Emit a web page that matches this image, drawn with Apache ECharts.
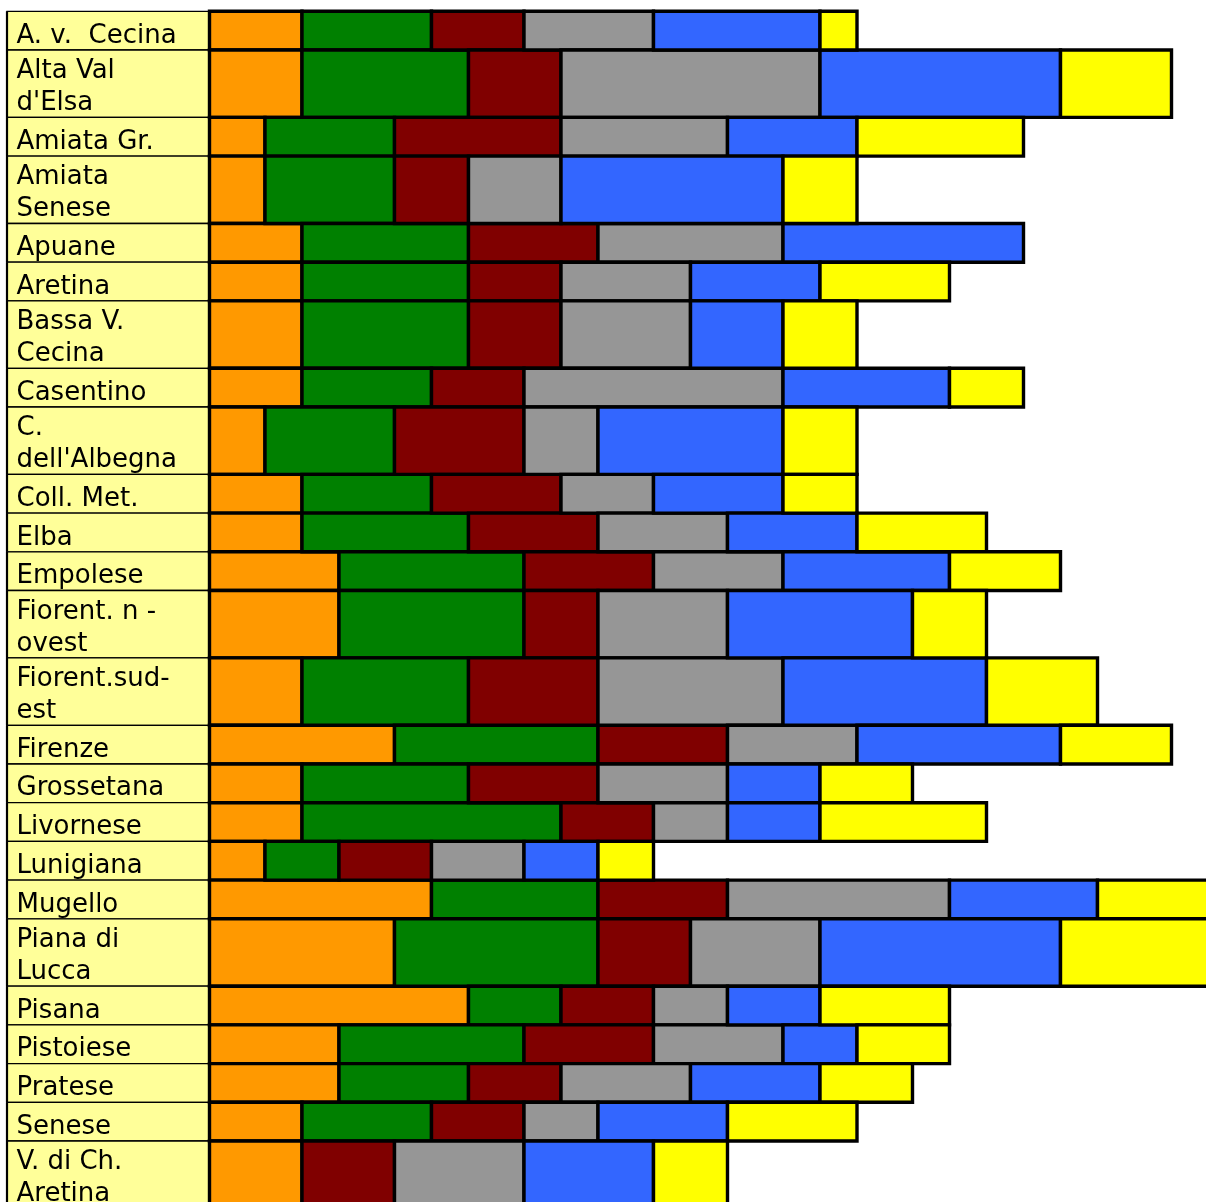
<!DOCTYPE html>
<html>
<head>
<meta charset="utf-8">
<title>Zone – composizione</title>
<script src="https://cdn.jsdelivr.net/npm/echarts@6/dist/echarts.min.js"></script>
<style>
  html, body { margin: 0; padding: 0; background: #ffffff; }
  #chart { width: 1206px; height: 1202px; }
</style>
</head>
<body>
<div id="chart"></div>
<script>
// Row labels (a "\n" marks a two-line cell)
const categories = [
  "A. v.  Cecina", "Alta Val\nd'Elsa", "Amiata Gr.", "Amiata\nSenese", "Apuane",
  "Aretina", "Bassa V.\nCecina", "Casentino", "C.\ndell'Albegna", "Coll. Met.",
  "Elba", "Empolese", "Fiorent. n -\novest", "Fiorent.sud-\nest", "Firenze",
  "Grossetana", "Livornese", "Lunigiana", "Mugello", "Piana di\nLucca",
  "Pisana", "Pistoiese", "Pratese", "Senese", "V. di Ch.\nAretina"
];

// Stacked segment values per row, left to right
const orangeValues = [5, 5, 3, 3, 5, 5, 5, 5, 3, 5, 5, 7, 7, 5, 10, 5, 5, 3, 12, 10, 14, 7, 7, 5, 5];
const greenValues  = [7, 9, 7, 7, 9, 9, 9, 7, 7, 7, 9, 10, 10, 9, 11, 9, 14, 4, 9, 11, 5, 10, 7, 7, 0];
const redValues    = [5, 5, 9, 4, 7, 5, 5, 5, 7, 7, 7, 7, 4, 7, 7, 7, 5, 5, 7, 5, 5, 7, 5, 5, 5];
const grayValues   = [7, 14, 9, 5, 10, 7, 7, 14, 4, 5, 7, 7, 7, 10, 7, 7, 4, 5, 12, 7, 4, 7, 7, 4, 7];
const blueValues   = [9, 13, 7, 12, 13, 7, 5, 9, 10, 7, 7, 9, 10, 11, 11, 5, 5, 4, 8, 13, 5, 4, 7, 7, 7];
const yellowValues = [2, 6, 9, 4, 0, 7, 4, 4, 4, 4, 7, 6, 4, 6, 6, 5, 9, 3, 7, 9, 7, 5, 5, 7, 4];

const segmentSeries = [
  { name: 'arancio', values: orangeValues, color: '#FF9900' },
  { name: 'verde',   values: greenValues,  color: '#008000' },
  { name: 'bordeaux', values: redValues,   color: '#800000' },
  { name: 'grigio',  values: grayValues,   color: '#969696' },
  { name: 'blu',     values: blueValues,   color: '#3366FF' },
  { name: 'giallo',  values: yellowValues, color: '#FFFF00' }
];

// Layout
const TABLE_TOP = 11.3;
const BAR_LEFT = 209.5;
const UNIT_PX = 18.5;
const X_MAX = 60;
const LABEL_COL_W = 202.5;
const ROW_H_ONE = 38.7;
const ROW_H_TWO = 67.4;
const LABEL_FONT = '26px "DejaVu Sans"';

// Row extents along the (inverted) vertical axis, from each label's line count
const rows = [];
let cursor = 0;
categories.forEach(function (label) {
  const lines = label.split('\n').length;
  const h = lines > 1 ? ROW_H_TWO : ROW_H_ONE;
  rows.push({ top: cursor, bottom: cursor + h, label: label });
  cursor += h;
});
const totalHeight = cursor;

// Cumulative start/end for each segment
const cumulative = categories.map(function () { return 0; });
const series = [];

// Label column
series.push({
  type: 'custom',
  name: 'etichette',
  coordinateSystem: 'cartesian2d',
  encode: { x: 0, y: 1 },
  data: rows.map(function (r, i) { return [0, r.top, r.bottom, i]; }),
  renderItem: function (params, api) {
    const a = api.coord([0, api.value(1)]);
    const b = api.coord([0, api.value(2)]);
    const idx = api.value(3);
    const x0 = a[0] - LABEL_COL_W;
    return {
      type: 'group',
      children: [
        {
          type: 'rect',
          shape: { x: x0, y: a[1], width: LABEL_COL_W, height: b[1] - a[1] },
          style: { fill: '#FFFF99', stroke: '#000000', lineWidth: 1.3 }
        },
        {
          type: 'line',
          shape: { x1: x0, y1: a[1], x2: x0, y2: b[1] },
          style: { stroke: '#000000', lineWidth: 2.2 }
        },
        {
          type: 'text',
          style: {
            text: rows[idx].label,
            x: x0 + 9.5,
            y: b[1] + 2,
            font: LABEL_FONT,
            fill: '#000000',
            align: 'left',
            verticalAlign: 'bottom',
            lineHeight: 32
          }
        }
      ]
    };
  },
  z: 1
});

// Coloured segments
segmentSeries.forEach(function (s) {
  const data = [];
  s.values.forEach(function (v, i) {
    const start = cumulative[i];
    const end = start + v;
    cumulative[i] = end;
    if (v > 0) data.push([start, end, rows[i].top, rows[i].bottom]);
  });
  series.push({
    type: 'custom',
    name: s.name,
    coordinateSystem: 'cartesian2d',
    encode: { x: [0, 1], y: [2, 3] },
    data: data,
    renderItem: function (params, api) {
      const p = api.coord([api.value(0), api.value(2)]);
      const q = api.coord([api.value(1), api.value(3)]);
      return {
        type: 'rect',
        shape: { x: p[0], y: p[1], width: q[0] - p[0], height: q[1] - p[1] },
        style: { fill: s.color, stroke: '#000000', lineWidth: 3.4 }
      };
    },
    z: 2
  });
});

const chart = echarts.init(document.getElementById('chart'), null, { renderer: 'canvas' });
chart.setOption({
  animation: false,
  backgroundColor: '#ffffff',
  grid: {
    left: BAR_LEFT,
    top: TABLE_TOP,
    width: X_MAX * UNIT_PX,
    height: totalHeight,
    containLabel: false,
    outerBoundsMode: 'none'
  },
  xAxis: {
    type: 'value', min: 0, max: X_MAX, show: false,
    splitLine: { show: false }
  },
  yAxis: {
    type: 'value', min: 0, max: totalHeight, inverse: true, show: false,
    splitLine: { show: false }
  },
  tooltip: { show: false },
  series: series
});
</script>
</body>
</html>
